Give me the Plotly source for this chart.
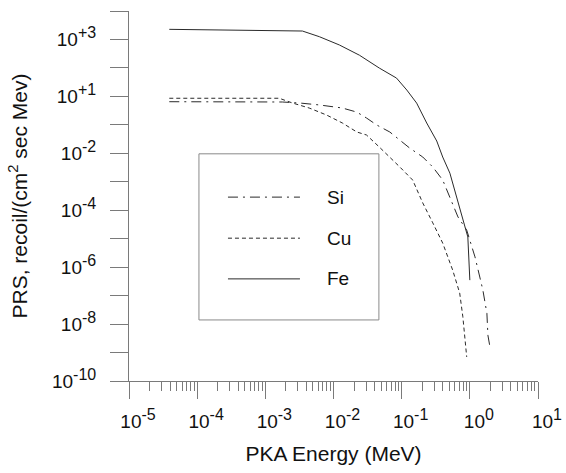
import plotly.graph_objects as go

# ---- data ----
fe_x = [3.9e-5, 3.5e-3, 6.2e-3, 1.22e-2, 2.4e-2, 4.7e-2, 8.4e-2, 0.119, 0.166, 0.233,
        0.327, 0.40, 0.51, 0.60, 0.67, 0.79, 0.90, 0.935, 1.0]
fe_y = [227, 198, 125, 64, 28, 9.9, 4.4, 1.67, 0.58, 0.116,
        0.027, 7.4e-3, 2.0e-3, 5.1e-4, 1.8e-4, 5.3e-5, 1.7e-5, 1.15e-5, 3.5e-7]

si_x = [3.9e-5, 1.78e-3, 3.2e-3, 6.2e-3, 1.35e-2, 2.2e-2, 3.05e-2, 4.3e-2, 6.7e-2, 9.4e-2,
        0.131, 0.204, 0.286, 0.40, 0.51, 0.67, 0.90, 1.19, 1.40, 1.55, 1.78, 1.84, 1.97, 2.05]
si_y = [0.65, 0.635, 0.585, 0.50, 0.39, 0.28, 0.174, 0.099, 0.056, 0.029,
        0.0153, 7.4e-3, 3.3e-3, 1.15e-3, 2.9e-4, 5.8e-5, 2.0e-5, 2.3e-6, 4.5e-7, 1.6e-7,
        2.4e-8, 4.1e-9, 1.6e-9, 1.6e-9]

cu_x = [3.9e-5, 1.6e-3, 2.5e-3, 4.4e-3, 7.9e-3, 1.35e-2, 2.2e-2, 3.05e-2, 4.7e-2, 6.7e-2,
        9.4e-2, 0.145, 0.204, 0.286, 0.40, 0.56, 0.71, 0.79, 0.84, 0.90]
cu_y = [0.86, 0.86, 0.585, 0.39, 0.222, 0.116, 0.056, 0.044, 0.0166, 7.4e-3,
        3.3e-3, 1.15e-3, 1.8e-4, 3.6e-5, 7.0e-6, 7.9e-7, 1.23e-7, 1.8e-8, 3.5e-9, 7.0e-10]

x_tickvals = [1e-5, 1e-4, 1e-3, 1e-2, 1e-1, 1e0, 1e1]
x_exponents = ["-5", "-4", "-3", "-2", "-1", "0", "1"]
y_tickvals = [10.0 ** k for k in range(-10, 4)]
y_exponents = ["-10", "", "-8", "", "-6", "", "-4", "", "-2", "", "+1", "", "+3", ""]

series_names = ["Si", "Cu", "Fe"]
series_dash = ["10px,5px,2px,5px", "4px,3px", "solid"]


def pow_label(e):
    if e == "":
        return ""
    return "10<sup><span style='font-size:16px'>" + e + "</span></sup>"


x_ticktext = [pow_label(e) for e in x_exponents]
y_ticktext = [pow_label(e) for e in y_exponents]

LINE = "#2a2a2a"
AX = "#7a7a7a"
FONT = "Liberation Sans, Arial, sans-serif"

fig = go.Figure()
for name, xs, ys, d in zip(series_names, [si_x, cu_x, fe_x], [si_y, cu_y, fe_y], series_dash):
    fig.add_trace(go.Scatter(x=xs, y=ys, mode="lines", name=name,
                             line=dict(color=LINE, width=1, dash=d), showlegend=False))

# hand-drawn legend box like the reference
lx0, lx1, ly0, ly1 = 0.171, 0.611, 0.165, 0.614
fig.add_shape(type="rect", xref="paper", yref="paper", x0=lx0, x1=lx1, y0=ly0, y1=ly1,
              line=dict(color="#8a8a8a", width=1), fillcolor="rgba(0,0,0,0)")
rows = [0.497, 0.386, 0.276]
for name, d, ry in zip(series_names, series_dash, rows):
    fig.add_shape(type="line", xref="paper", yref="paper", x0=0.242, x1=0.418, y0=ry, y1=ry,
                  line=dict(color=LINE, width=1, dash=d))
    fig.add_annotation(xref="paper", yref="paper", x=0.479, y=ry, text=name, showarrow=False,
                       xanchor="left", yanchor="middle", font=dict(size=19, color="#111", family=FONT))

fig.update_xaxes(type="log", range=[-5, 1], tickvals=x_tickvals, ticktext=x_ticktext,
                 ticks="outside", ticklen=17, tickcolor=AX, tickwidth=1, automargin=False,
                 showline=True, linecolor=AX, linewidth=1, showgrid=False, zeroline=False,
                 minor=dict(ticks="outside", ticklen=9, tickcolor=AX, dtick="D1", showgrid=False),
                 tickfont=dict(size=19, color="#111", family=FONT), ticklabelshift=9,
                 ticklabelstandoff=6,
                 title=dict(text="PKA Energy (MeV)", font=dict(size=21, color="#111", family=FONT),
                            standoff=15))
fig.update_yaxes(type="log", range=[-10, 3], tickvals=y_tickvals, ticktext=y_ticktext,
                 ticks="outside", ticklen=18, tickcolor=AX, tickwidth=1, automargin=False,
                 showline=True, linecolor=AX, linewidth=1, showgrid=False, zeroline=False,
                 tickfont=dict(size=19, color="#111", family=FONT), ticklabelstandoff=10,
                 title=dict(text="PRS, recoil/(cm<sup>2</sup> sec Mev)",
                            font=dict(size=21, color="#111", family=FONT), standoff=18))

fig.update_layout(width=566, height=473, margin=dict(l=129, r=28, t=11, b=92),
                  plot_bgcolor="white", paper_bgcolor="white")

fig.write_html("out.html")
